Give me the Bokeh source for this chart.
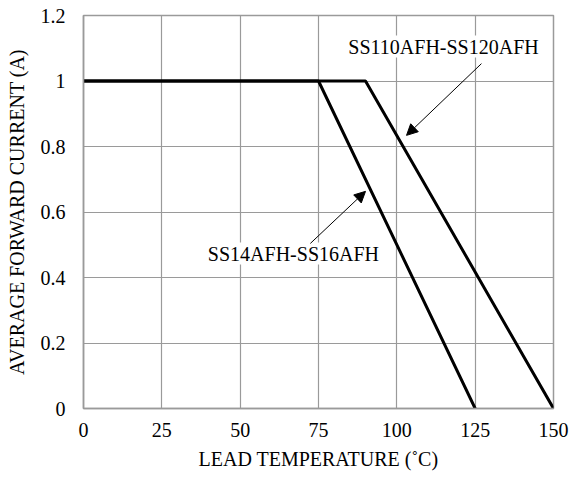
from bokeh.plotting import figure
from bokeh.models import FixedTicker, Arrow, NormalHead, Label
from bokeh.embed import file_html
from bokeh.resources import INLINE

# Data
x_ticks = [0, 25, 50, 75, 100, 125, 150]
y_ticks = [0, 0.2, 0.4, 0.6, 0.8, 1.0, 1.2]
y_tick_labels = ["0", "0.2", "0.4", "0.6", "0.8", "1", "1.2"]

s1_name = "SS14AFH-SS16AFH"
s1_temp = [0, 75, 125]
s1_current = [1.0, 1.0, 0.0]

s2_name = "SS110AFH-SS120AFH"
s2_temp = [0, 90, 150]
s2_current = [1.0, 1.0, 0.0]

# annotation positions (data units): label center, arrow start, arrow end
s1_label = (67.0, 0.473)
s1_arrow = (72.4, 0.504, 90.0, 0.663)
s2_label = (114.9, 1.105)
s2_arrow = (127.0, 1.053, 103.1, 0.834)

FONT = "Liberation Serif"
FS = "20px"
GRID = "#9a9a9a"

p = figure(width=571, height=477, output_backend="svg", toolbar_location=None,
           x_range=(0, 150), y_range=(0, 1.2),
           min_border_left=83, min_border_right=18, min_border_top=15, min_border_bottom=69)
p.background_fill_color = "white"
p.border_fill_color = "white"
p.outline_line_color = GRID
p.outline_line_width = 1.5

p.line(s1_temp, s1_current, line_color="black", line_width=3)
p.line(s2_temp, s2_current, line_color="black", line_width=3)

p.xaxis.ticker = FixedTicker(ticks=x_ticks)
p.yaxis.ticker = FixedTicker(ticks=y_ticks)
p.yaxis.major_label_overrides = dict(zip(y_ticks, y_tick_labels))
p.xgrid.grid_line_color = GRID
p.ygrid.grid_line_color = GRID
p.xgrid.grid_line_width = 1.2
p.ygrid.grid_line_width = 1.2

for ax in (p.xaxis, p.yaxis):
    ax.axis_line_color = GRID
    ax.axis_line_width = 1.5
    ax.major_tick_line_color = None
    ax.minor_tick_line_color = None
    ax.major_tick_out = 0
    ax.major_tick_in = 0
    ax.minor_tick_out = 0
    ax.minor_tick_in = 0
    ax.major_label_text_font = FONT
    ax.major_label_text_font_size = FS
    ax.major_label_text_color = "black"
    ax.axis_label_text_font = FONT
    ax.axis_label_text_font_size = FS
    ax.axis_label_text_font_style = "normal"
    ax.axis_label_text_color = "black"

p.xaxis.axis_label = "LEAD TEMPERATURE (˚C)"
p.yaxis.axis_label = "AVERAGE FORWARD CURRENT (A)"
p.xaxis.major_label_standoff = 14
p.yaxis.major_label_standoff = 18
p.xaxis.axis_label_standoff = 8
p.yaxis.axis_label_standoff = 10

for (lx, ly), name in ((s1_label, s1_name), (s2_label, s2_name)):
    p.add_layout(Label(x=lx, y=ly, text=name, text_font=FONT, text_font_size=FS,
                       text_align="center", text_baseline="middle", text_color="black",
                       background_fill_color="white"))

for (x0, y0, x1, y1) in (s1_arrow, s2_arrow):
    p.add_layout(Arrow(x_start=x0, y_start=y0, x_end=x1, y_end=y1,
                       line_color="black", line_width=1,
                       end=NormalHead(size=11, fill_color="black", line_color="black")))

open("out.html", "w").write(file_html(p, INLINE))
